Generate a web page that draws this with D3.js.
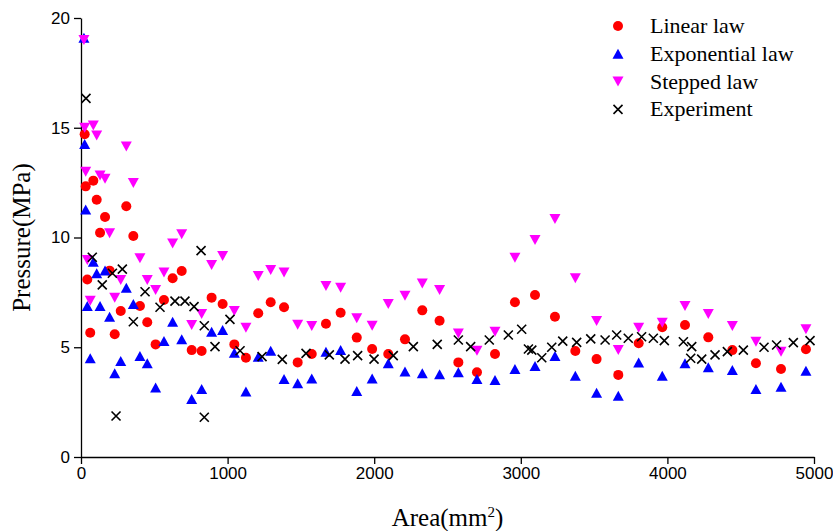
<!DOCTYPE html>
<html>
<head>
<meta charset="utf-8">
<script src="https://cdn.jsdelivr.net/npm/d3@7"></script>
<style>
  html, body { margin: 0; padding: 0; background: #fff; }
  svg { display: block; }
  .tick text { font-family: "Liberation Sans", Arial, sans-serif; font-size: 17px; fill: #000; }
  .axis path, .axis line { stroke: #000; stroke-width: 1.3; }
  .title { font-family: "Liberation Serif", "Times New Roman", serif; font-size: 25px; fill: #000; }
  .legend text { font-family: "Liberation Serif", "Times New Roman", serif; font-size: 22px; fill: #000; }
</style>
</head>
<body>
<script>
// Contact area positions shared by the three model laws (mm^2)
const modelArea = [20, 25, 32, 43, 63, 84, 107, 130, 164, 195, 230, 271, 309, 357, 402, 452, 509, 566, 625, 687,
  755, 823, 891, 966, 1046, 1125, 1209, 1294, 1385, 1478, 1574, 1671, 1771, 1881, 1986, 2096, 2210, 2328, 2446, 2574,
  2701, 2824, 2960, 3097, 3233, 3372, 3517, 3665, 3804, 3965, 4120, 4279, 4443, 4604, 4775, 4945];

// Pressure predicted by each law (MPa); null where no point is plotted
const linearLaw = [null, 14.7, 12.33, 8.09, 5.66, 12.59, 11.72, 10.22, 10.93, 8.49, 5.59, 6.65, 11.42, 10.07, 6.88, 6.14, 5.13, 7.15, 8.14, 8.47,
  4.87, 4.83, 7.26, 6.97, 5.13, 4.52, 6.55, 7.05, 6.82, 4.31, 4.69, 6.07, 6.57, 5.44, 4.92, 4.69, 5.36, 6.68, 6.21, 4.31,
  3.86, 4.69, 7.05, 7.38, 6.39, 4.83, 4.46, 3.74, 5.18, 5.91, 6.01, 5.45, 4.87, 4.27, 4.01, 4.91];

const exponentialLaw = [19.1, 14.26, 11.27, 6.88, 4.5, 8.9, 8.37, 6.88, 8.5, 6.39, 3.81, 4.37, 7.71, 6.97, 4.6, 4.27, 3.17, 5.28, 6.16, 5.36,
  2.64, 3.1, 5.71, 5.79, 4.75, 2.98, 4.57, 4.84, 3.55, 3.36, 3.58, 4.8, 4.87, 3.01, 3.58, 4.27, 3.89, 3.81, 3.77, 3.86,
  3.55, 3.51, 4.01, 4.15, 4.6, 3.7, 2.93, 2.79, 4.31, 3.7, 4.27, 4.09, 3.96, 3.1, 3.2, 3.93];

const steppedLaw = [19.0, 15.0, 13.0, 8.97, 7.12, 15.1, 14.65, 12.83, 12.68, 10.19, 7.26, 8.06, 14.15, 12.48, 9.05, 8.06, 7.61, 8.4, 9.73, 10.15,
  6.01, 6.51, 8.75, 9.16, 6.65, 5.89, 8.25, 8.52, 8.4, 6.03, 5.97, 7.79, 7.71, 6.32, 5.98, 6.97, 7.35, 7.91, 7.61, 5.63,
  4.84, 5.71, 9.08, 9.89, 10.84, 8.14, 6.2, 4.87, 5.89, 6.12, 6.88, 6.51, 5.97, 5.25, 4.8, 5.82];

// Measured values
const expArea = [34, 77, 145, 214, 282, 239, 357, 437, 539, 641, 709, 771, 819, 841, 841, 914, 1016, 1085, 1235, 1373,
  1535, 1694, 1801, 1887, 1999, 2130, 2267, 2430, 2574, 2658, 2785, 2915, 3006, 3052, 3075, 3143, 3211, 3286, 3381, 3477,
  3575, 3654, 3733, 3824, 3904, 3979, 4109, 4159, 4166, 4234, 4325, 4409, 4518, 4659, 4745, 4859, 4973];
const expPressure = [16.34, 9.1, 7.84, 8.37, 8.56, 1.87, 6.16, 7.53, 6.82, 7.1, 7.1, 6.85, 9.4, 5.98, 1.81, 5.03, 6.27, 4.84, 4.57, 4.45,
  4.72, 4.65, 4.46, 4.62, 4.46, 4.62, 5.03, 5.13, 5.33, 5.03, 5.33, 5.56, 5.82, 4.92, 4.87, 4.52, 5.0, 5.28, 5.22, 5.38,
  5.33, 5.56, 5.41, 5.48, 5.41, 5.3, 5.25, 4.5, 5.03, 4.46, 4.65, 4.8, 4.87, 5.0, 5.1, 5.21, 5.3];

const xTicks = [0, 1000, 2000, 3000, 4000, 5000];
const yTicks = [0, 5, 10, 15, 20];
const seriesNames = ["Linear law", "Exponential law", "Stepped law", "Experiment"];

const W = 833, H = 531;
const svg = d3.select("body").append("svg").attr("width", W).attr("height", H);

const x = d3.scaleLinear().domain([0, 5000]).range([81, 814]);
const y = d3.scaleLinear().domain([0, 20]).range([457, 18]);

// Axes (left and bottom only, outward ticks)
svg.append("g").attr("class", "axis").attr("transform", `translate(0,${y(0)})`)
  .call(d3.axisBottom(x).tickValues(xTicks).tickFormat(d3.format("d")).tickSize(7).tickSizeOuter(0).tickPadding(3));
svg.append("g").attr("class", "axis").attr("transform", `translate(${x(0)},0)`)
  .call(d3.axisLeft(y).tickValues(yTicks).tickFormat(d3.format("d")).tickSize(7).tickSizeOuter(0).tickPadding(4));

// Axis titles
const xt = svg.append("text").attr("class", "title").attr("text-anchor", "middle")
  .attr("x", (x(0) + x(5000)) / 2).attr("y", 526);
xt.append("tspan").text("Area(mm");
xt.append("tspan").attr("dy", -9).attr("font-size", "15px").text("2");
xt.append("tspan").attr("dy", 9).text(")");

svg.append("text").attr("class", "title").attr("text-anchor", "middle")
  .attr("transform", `translate(30,${(y(0) + y(20)) / 2}) rotate(-90)`)
  .text("Pressure(MPa)");

// Marker shapes
const triUp = (w, h) => `M0,${-h / 2}L${w / 2},${h / 2}L${-w / 2},${h / 2}Z`;
const triDown = (w, h) => `M${-w / 2},${-h / 2}L${w / 2},${-h / 2}L0,${h / 2}Z`;
const cross = s => `M${-s},${-s}L${s},${s}M${-s},${s}L${s},${-s}`;

const pairs = vals => modelArea.map((a, i) => [a, vals[i]]).filter(d => d[1] != null);

const plot = svg.append("g");

plot.append("g").selectAll("circle").data(pairs(linearLaw)).join("circle")
  .attr("cx", d => x(d[0])).attr("cy", d => y(d[1])).attr("r", 5).attr("fill", "#ff0000");

plot.append("g").selectAll("path").data(pairs(exponentialLaw)).join("path")
  .attr("transform", d => `translate(${x(d[0])},${y(d[1])})`)
  .attr("d", triUp(11, 10)).attr("fill", "#0000ff");

plot.append("g").selectAll("path").data(pairs(steppedLaw)).join("path")
  .attr("transform", d => `translate(${x(d[0])},${y(d[1])})`)
  .attr("d", triDown(11, 10)).attr("fill", "#ff00ff");

plot.append("g").selectAll("path").data(expArea.map((a, i) => [a, expPressure[i]])).join("path")
  .attr("transform", d => `translate(${x(d[0])},${y(d[1])})`)
  .attr("d", cross(4.5)).attr("stroke", "#000").attr("stroke-width", 1.6).attr("fill", "none");

// Legend
const legend = svg.append("g").attr("class", "legend");
const rowY = i => 26 + i * 27.8;
seriesNames.forEach((name, i) => {
  const g = legend.append("g").attr("transform", `translate(618,${rowY(i)})`);
  if (i === 0) g.append("circle").attr("r", 5).attr("fill", "#ff0000");
  if (i === 1) g.append("path").attr("d", triUp(11, 10)).attr("fill", "#0000ff");
  if (i === 2) g.append("path").attr("d", triDown(11, 10)).attr("fill", "#ff00ff");
  if (i === 3) g.append("path").attr("d", cross(4.5)).attr("stroke", "#000").attr("stroke-width", 1.6);
  g.append("text").attr("x", 32).attr("y", 7).text(name);
});
</script>
</body>
</html>
